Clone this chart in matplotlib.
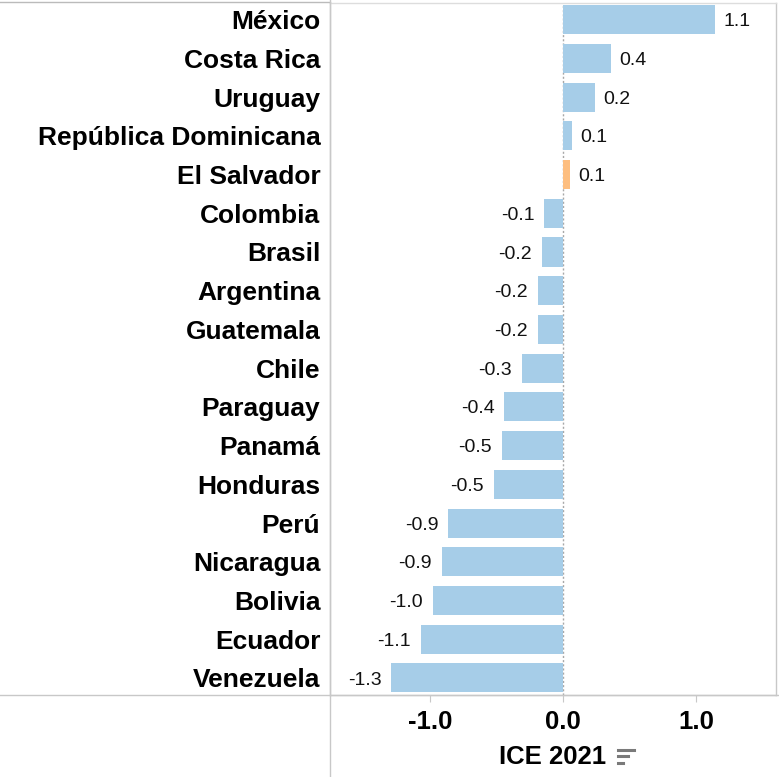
#!/usr/bin/env python3
"""Horizontal bar chart of the ICE 2021 index by Latin American country."""

import matplotlib

matplotlib.use("Agg")
import matplotlib.pyplot as plt
from matplotlib.lines import Line2D

COUNTRIES = [
    "México", "Costa Rica", "Uruguay", "República Dominicana", "El Salvador",
    "Colombia", "Brasil", "Argentina", "Guatemala", "Chile", "Paraguay",
    "Panamá", "Honduras", "Perú", "Nicaragua", "Bolivia", "Ecuador", "Venezuela",
]
ICE_2021 = [
    1.14, 0.36, 0.24, 0.07, 0.05, -0.14, -0.16, -0.19, -0.19, -0.31, -0.44,
    -0.46, -0.52, -0.86, -0.91, -0.98, -1.07, -1.29,
]
HIGHLIGHT = "El Salvador"
TICKS = [-1.0, 0.0, 1.0]

BLUE = "#A6CDE8"
ORANGE = "#FDBE80"
GRID = "#C8C8C8"

plt.rcParams["font.family"] = ["Liberation Sans", "DejaVu Sans"]


def main() -> None:
    fig = plt.figure(figsize=(7.79, 7.77), dpi=100)
    W, H = 779, 777
    left, right, top, bottom = 330, 776, 3, 695
    ax = fig.add_axes([left / W, 1 - bottom / H, (right - left) / W, (bottom - top) / H])

    rows = list(range(len(COUNTRIES)))
    colors = [ORANGE if c == HIGHLIGHT else BLUE for c in COUNTRIES]
    ax.barh(rows, ICE_2021, height=0.75, color=colors, zorder=2)
    ax.axvline(0, color="#A8A8A8", linestyle=(0, (1.5, 1.5)), linewidth=1, zorder=1)

    for y, v in zip(rows, ICE_2021):
        off = 6 if v >= 0 else -7
        ax.annotate(f"{v:.1f}", (v, y), xytext=(off, -1.5), textcoords="offset points",
                    ha="left" if v >= 0 else "right", va="center", fontsize=14, color="#111111")

    ax.set_xlim(-1.75, 1.6)
    ax.set_ylim(len(COUNTRIES) - 0.56, -0.43)
    ax.set_yticks(rows)
    ax.set_yticklabels(COUNTRIES, fontsize=19, fontweight="bold")
    ax.tick_params(axis="y", length=0, pad=7)
    ax.set_xticks(TICKS)
    ax.set_xticklabels([f"{t:.1f}" for t in TICKS], fontsize=18.5, fontweight="bold")
    ax.tick_params(axis="x", length=5, color=GRID, pad=6)
    ax.set_xlabel("ICE 2021", fontsize=18.5, fontweight="bold", labelpad=8)

    for side in ("left", "top", "right", "bottom"):
        ax.spines[side].set_color(GRID)
        ax.spines[side].set_linewidth(1)
    ax.spines["top"].set_color("#DDDDDD")

    def px_line(x0, y0, x1, y1, color=GRID, lw=1.0):
        fig.add_artist(Line2D([x0 / W, x1 / W], [1 - y0 / H, 1 - y1 / H],
                              color=color, linewidth=lw, transform=fig.transFigure))

    # frame of the row-header panel
    px_line(0, 2, left, 2, color="#BBBBBB")
    px_line(0, bottom, W, bottom)
    px_line(left, 0, left, H)

    # sort indicator next to the axis title
    for y, x1 in ((750, 634), (756, 628), (763, 623)):
        px_line(618, y, x1, y, color="#7A7A7A", lw=2.2)

    fig.savefig("out.png", dpi=100)
    plt.close(fig)


if __name__ == "__main__":
    main()
